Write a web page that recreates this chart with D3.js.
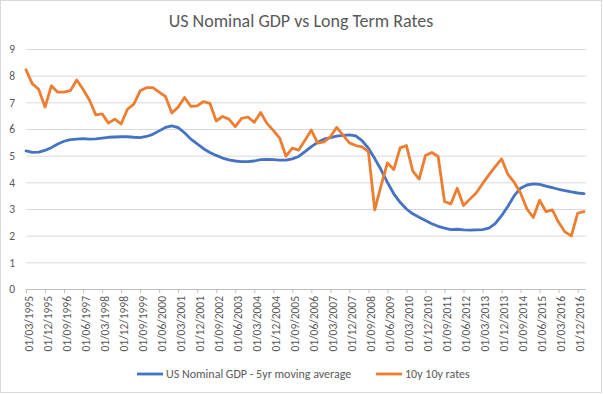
<!DOCTYPE html>
<html>
<head>
<meta charset="utf-8">
<script src="https://cdn.jsdelivr.net/npm/d3@7"></script>
<style>
body { margin: 0; background: #fff; }
svg { font-family: Calibri, Carlito, Lato, sans-serif; }
</style>
</head>
<body>
<svg id="chart" width="603" height="394"></svg>
<script>
var quarters = [
  "01/03/1995", "01/06/1995", "01/09/1995", "01/12/1995",
  "01/03/1996", "01/06/1996", "01/09/1996", "01/12/1996",
  "01/03/1997", "01/06/1997", "01/09/1997", "01/12/1997",
  "01/03/1998", "01/06/1998", "01/09/1998", "01/12/1998",
  "01/03/1999", "01/06/1999", "01/09/1999", "01/12/1999",
  "01/03/2000", "01/06/2000", "01/09/2000", "01/12/2000",
  "01/03/2001", "01/06/2001", "01/09/2001", "01/12/2001",
  "01/03/2002", "01/06/2002", "01/09/2002", "01/12/2002",
  "01/03/2003", "01/06/2003", "01/09/2003", "01/12/2003",
  "01/03/2004", "01/06/2004", "01/09/2004", "01/12/2004",
  "01/03/2005", "01/06/2005", "01/09/2005", "01/12/2005",
  "01/03/2006", "01/06/2006", "01/09/2006", "01/12/2006",
  "01/03/2007", "01/06/2007", "01/09/2007", "01/12/2007",
  "01/03/2008", "01/06/2008", "01/09/2008", "01/12/2008",
  "01/03/2009", "01/06/2009", "01/09/2009", "01/12/2009",
  "01/03/2010", "01/06/2010", "01/09/2010", "01/12/2010",
  "01/03/2011", "01/06/2011", "01/09/2011", "01/12/2011",
  "01/03/2012", "01/06/2012", "01/09/2012", "01/12/2012",
  "01/03/2013", "01/06/2013", "01/09/2013", "01/12/2013",
  "01/03/2014", "01/06/2014", "01/09/2014", "01/12/2014",
  "01/03/2015", "01/06/2015", "01/09/2015", "01/12/2015",
  "01/03/2016", "01/06/2016", "01/09/2016", "01/12/2016",
  "01/03/2017"
]

var gdpAvg = [
  5.18, 5.12, 5.13, 5.20, 5.30, 5.44, 5.54, 5.60, 5.62, 5.64,
  5.62, 5.63, 5.66, 5.69, 5.70, 5.71, 5.71, 5.69, 5.68, 5.72,
  5.80, 5.93, 6.06, 6.12, 6.05, 5.86, 5.62, 5.44, 5.26, 5.12,
  5.01, 4.91, 4.84, 4.80, 4.78, 4.78, 4.80, 4.85, 4.86, 4.85,
  4.83, 4.83, 4.88, 4.97, 5.15, 5.34, 5.50, 5.62, 5.68, 5.73,
  5.76, 5.78, 5.74, 5.56, 5.28, 4.89, 4.47, 4.00, 3.57, 3.25,
  3.00, 2.82, 2.69, 2.57, 2.45, 2.35, 2.28, 2.23, 2.24, 2.22,
  2.21, 2.22, 2.23, 2.28, 2.45, 2.75, 3.10, 3.50, 3.78, 3.90,
  3.94, 3.92, 3.86, 3.80, 3.74, 3.69, 3.64, 3.60, 3.58
]

var rates10y10y = [
  8.22, 7.69, 7.49, 6.82, 7.62, 7.38, 7.38, 7.44, 7.84, 7.49,
  7.09, 6.53, 6.57, 6.22, 6.37, 6.19, 6.74, 6.93, 7.43, 7.55,
  7.55, 7.38, 7.22, 6.60, 6.82, 7.18, 6.85, 6.87, 7.03, 6.96,
  6.30, 6.47, 6.37, 6.09, 6.40, 6.45, 6.25, 6.62, 6.21, 5.95,
  5.66, 4.98, 5.28, 5.21, 5.58, 5.96, 5.47, 5.52, 5.71, 6.06,
  5.77, 5.48, 5.38, 5.33, 5.15, 2.97, 3.88, 4.73, 4.48, 5.29,
  5.38, 4.42, 4.12, 5.01, 5.12, 4.97, 3.28, 3.19, 3.78, 3.13,
  3.37, 3.60, 3.95, 4.28, 4.59, 4.88, 4.30, 4.00, 3.59, 3.00,
  2.68, 3.33, 2.90, 2.97, 2.50, 2.14, 1.99, 2.84, 2.90
]

var yTicks = [0, 1, 2, 3, 4, 5, 6, 7, 8, 9]
var seriesNames = ["US Nominal GDP - 5yr moving average", "10y 10y rates"]
var seriesColors = ["#4472C4", "#ED7D31"]
var title = "US Nominal GDP vs Long Term Rates"

var margin = {top: 49, right: 17, bottom: 105, left: 26}
var width = 603, height = 394
var chartWidth = width - margin.left - margin.right
var chartHeight = height - margin.top - margin.bottom

var svg = d3.select("#chart")

svg.append("rect")
    .attr("x", 0.5).attr("y", 0.5)
    .attr("width", width - 2).attr("height", height - 2)
    .attr("fill", "#fff")
    .attr("stroke", "#d9d9d9")

svg.append("text")
    .attr("x", 301)
    .attr("y", 27)
    .attr("text-anchor", "middle")
    .attr("fill", "#595959")
    .style("font-size", "18px")
    .text(title)

var x = d3.scalePoint().domain(quarters).range([0, chartWidth - 2])
var y = d3.scaleLinear().domain([0, 9]).range([chartHeight, 0])

var g = svg.append("g")
    .attr("transform", `translate(${margin.left},${margin.top})`)

// gridlines
g.append("g")
    .call(d3.axisLeft(y).tickValues(yTicks).tickSize(-chartWidth).tickFormat(""))
    .call(function(a) { a.select(".domain").remove() })
    .selectAll("line")
    .attr("stroke", "#d9d9d9")

// y labels
g.append("g")
    .call(d3.axisLeft(y).tickValues(yTicks).tickSize(0).tickPadding(11))
    .call(function(a) { a.select(".domain").remove() })
    .selectAll("text")
    .attr("fill", "#595959")
    .style("font-size", "11.5px")
    .style("font-family", "Calibri, Carlito, Lato, sans-serif")

// x axis
var xAxis = g.append("g")
    .attr("transform", `translate(0,${chartHeight})`)
    .call(d3.axisBottom(x)
      .tickValues(quarters.filter(function(d, i) { return i % 3 === 0 }))
      .tickSizeInner(4).tickSizeOuter(0))

xAxis.select(".domain").attr("stroke", "#bfbfbf").attr("d", `M0,0.5H${chartWidth}`)
xAxis.selectAll("line").attr("stroke", "#bfbfbf")
xAxis.selectAll("text")
    .attr("fill", "#595959")
    .style("font-size", "11.5px")
    .style("font-family", "Calibri, Carlito, Lato, sans-serif")
    .attr("text-anchor", "end")
    .attr("transform", "rotate(-90)")
    .attr("x", -7)
    .attr("y", 0)
    .attr("dy", "0.55em")
    .attr("dx", 0)

var series = [gdpAvg, rates10y10y]

var line = d3.line()
    .x(function(d, i) { return x(quarters[i]) })
    .y(function(d) { return y(d) })

series.forEach(function(s, k) {
  g.append("path")
    .datum(s)
    .attr("fill", "none")
    .attr("stroke", seriesColors[k])
    .attr("stroke-width", 2.8)
    .attr("stroke-linejoin", "round")
    .attr("stroke-linecap", "round")
    .attr("d", line)
})

// legend
var legendX = [137, 376]
var legend = svg.append("g")
seriesNames.forEach(function(name, k) {
  legend.append("line")
    .attr("x1", legendX[k]).attr("x2", legendX[k] + 26)
    .attr("y1", 374).attr("y2", 374)
    .attr("stroke", seriesColors[k])
    .attr("stroke-width", 2.8)
  legend.append("text")
    .attr("x", legendX[k] + 29)
    .attr("y", 374)
    .attr("dy", "0.35em")
    .attr("fill", "#595959")
    .style("font-size", "12px")
    .text(name)
})
</script>
</body>
</html>
